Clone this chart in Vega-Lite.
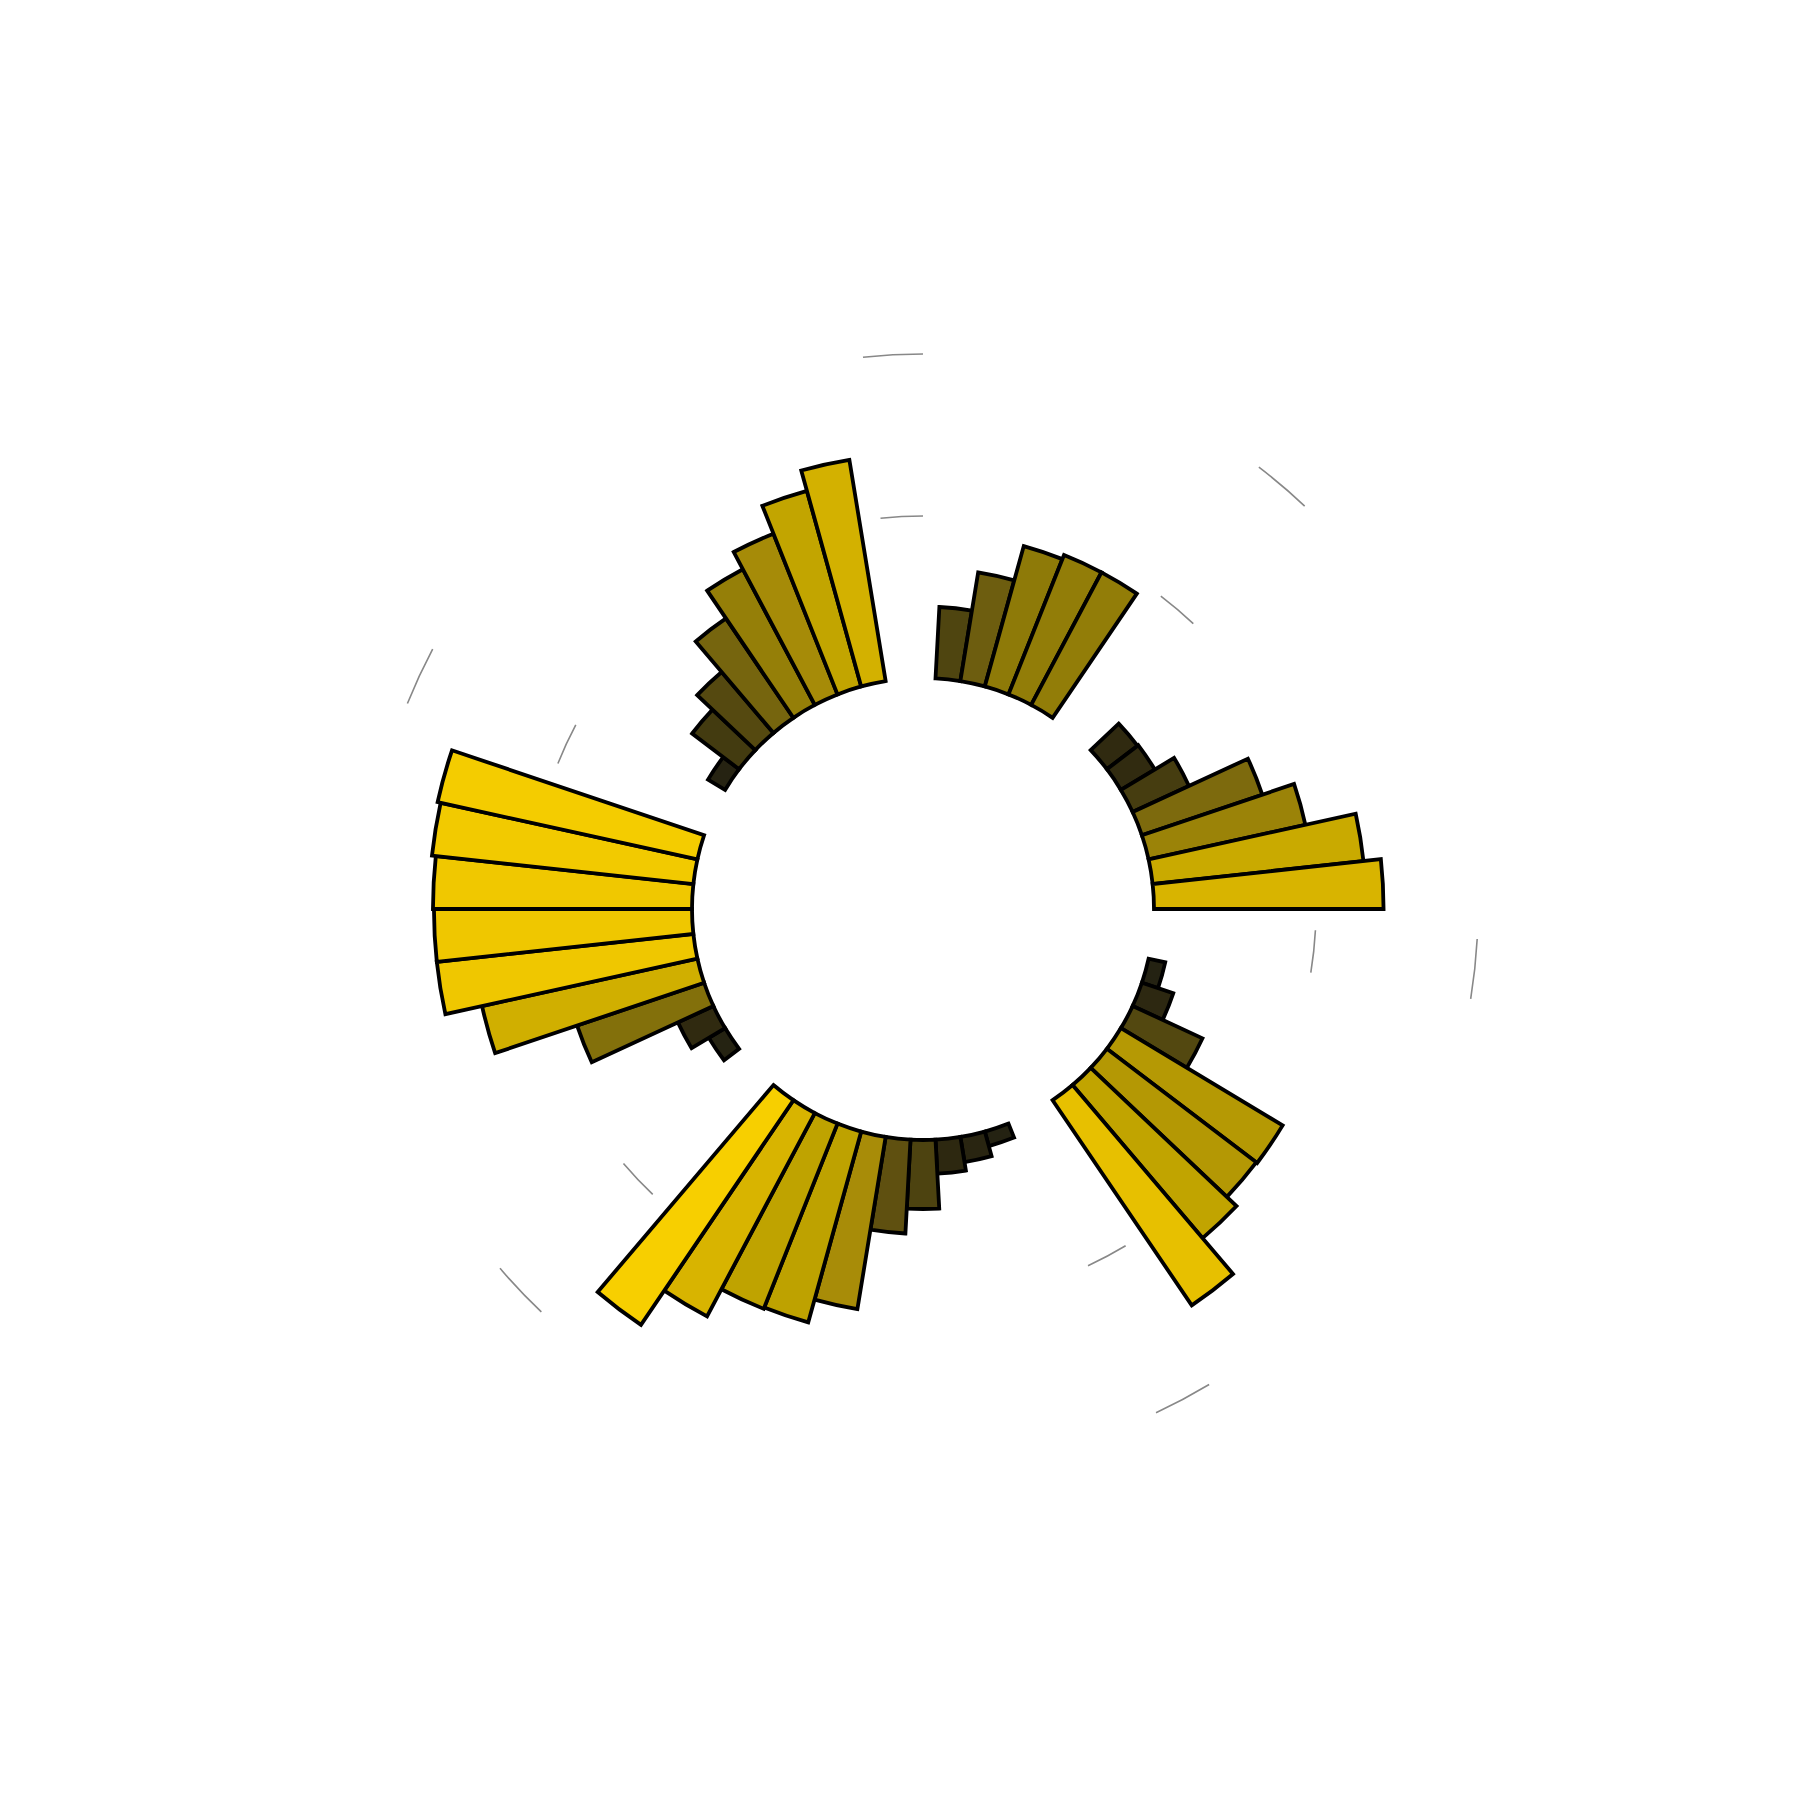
{
  "$schema": "https://vega.github.io/schema/vega-lite/v6.json",
  "width": 1754,
  "height": 1782,
  "autosize": {"type": "none"},
  "padding": {"left": 46, "top": 18, "right": 0, "bottom": 0},
  "background": "white",
  "config": {"view": {"stroke": null}},
  "layer": [
    {
      "data": {
        "values": [
          {"from": 57, "to": 58, "level": 100}, {"from": 57, "to": 58, "level": 200},
          {"from": 6, "to": 7, "level": 100}, {"from": 6, "to": 7, "level": 200},
          {"from": 15, "to": 16, "level": 100}, {"from": 15, "to": 16, "level": 200},
          {"from": 24, "to": 25, "level": 100}, {"from": 24, "to": 25, "level": 200},
          {"from": 36, "to": 37, "level": 100}, {"from": 36, "to": 37, "level": 200},
          {"from": 47, "to": 48, "level": 100}, {"from": 47, "to": 48, "level": 200}
        ]
      },
      "mark": {"type": "arc", "filled": false, "stroke": "#888888", "strokeWidth": 1.6},
      "encoding": {
        "theta": {"field": "from", "type": "quantitative",
          "scale": {"domain": [0, 58], "range": [0, 6.283185], "nice": false, "zero": false}},
        "theta2": {"field": "to"},
        "radius": {"field": "level", "type": "quantitative",
          "scale": {"domain": [0, 200], "range": [231, 555], "nice": false, "zero": false}},
        "radius2": {"field": "level"}
      }
    },
    {
      "data": {
        "values": [
          {"slot": 1, "value": 44.1}, {"slot": 2, "value": 67.9}, {"slot": 3, "value": 89.9},
          {"slot": 4, "value": 92.6}, {"slot": 5, "value": 92.6},
          {"slot": 8, "value": 23.8}, {"slot": 9, "value": 24.4}, {"slot": 10, "value": 38.3},
          {"slot": 11, "value": 78.4}, {"slot": 12, "value": 99.1}, {"slot": 13, "value": 130.9},
          {"slot": 14, "value": 141.7},
          {"slot": 17, "value": 10.5}, {"slot": 18, "value": 20.4}, {"slot": 19, "value": 47.5},
          {"slot": 20, "value": 116.5}, {"slot": 21, "value": 115.8}, {"slot": 22, "value": 124},
          {"slot": 23, "value": 153},
          {"slot": 26, "value": 9.3}, {"slot": 27, "value": 15.7}, {"slot": 28, "value": 21.0},
          {"slot": 29, "value": 42.6}, {"slot": 30, "value": 58.0}, {"slot": 31, "value": 107.7},
          {"slot": 32, "value": 122.2}, {"slot": 33, "value": 123.1}, {"slot": 34, "value": 142.0},
          {"slot": 35, "value": 167.6},
          {"slot": 38, "value": 11.7}, {"slot": 39, "value": 24.1}, {"slot": 40, "value": 82.7},
          {"slot": 41, "value": 136.1}, {"slot": 42, "value": 159.3}, {"slot": 43, "value": 159.3},
          {"slot": 44, "value": 159.9}, {"slot": 45, "value": 162.3}, {"slot": 46, "value": 164.2},
          {"slot": 49, "value": 12.3}, {"slot": 50, "value": 36.4}, {"slot": 51, "value": 49.4},
          {"slot": 52, "value": 74.1}, {"slot": 53, "value": 94.8}, {"slot": 54, "value": 106.8},
          {"slot": 55, "value": 125.3}, {"slot": 56, "value": 138.3}
        ]
      },
      "mark": {"type": "arc", "stroke": "black", "strokeWidth": 3.8},
      "encoding": {
        "theta": {"field": "slot", "type": "ordinal",
          "scale": {"type": "band",
            "domain": [0,1,2,3,4,5,6,7,8,9,10,11,12,13,14,15,16,17,18,19,20,21,22,23,24,25,26,27,28,29,30,31,32,33,34,35,36,37,38,39,40,41,42,43,44,45,46,47,48,49,50,51,52,53,54,55,56,57],
            "range": [-0.054166, 6.229019], "paddingInner": 0, "paddingOuter": 0}},
        "radius": {"field": "value", "type": "quantitative",
          "scale": {"domain": [0, 200], "range": [231, 555], "nice": false, "zero": false}},
        "radius2": {"datum": 0},
        "color": {"field": "value", "type": "quantitative", "legend": null,
          "scale": {
            "domain": [0, 10, 24, 43, 58, 90, 108, 122, 142, 160, 168],
            "range": ["#1e1c12", "#242212", "#302a10", "#4e4410", "#5f5010", "#8e7a08", "#a88c08", "#bea200", "#d8b400", "#f0c800", "#f7cf00"]
          }}
      }
    }
  ],
  "resolve": {"scale": {"theta": "independent"}}
}
